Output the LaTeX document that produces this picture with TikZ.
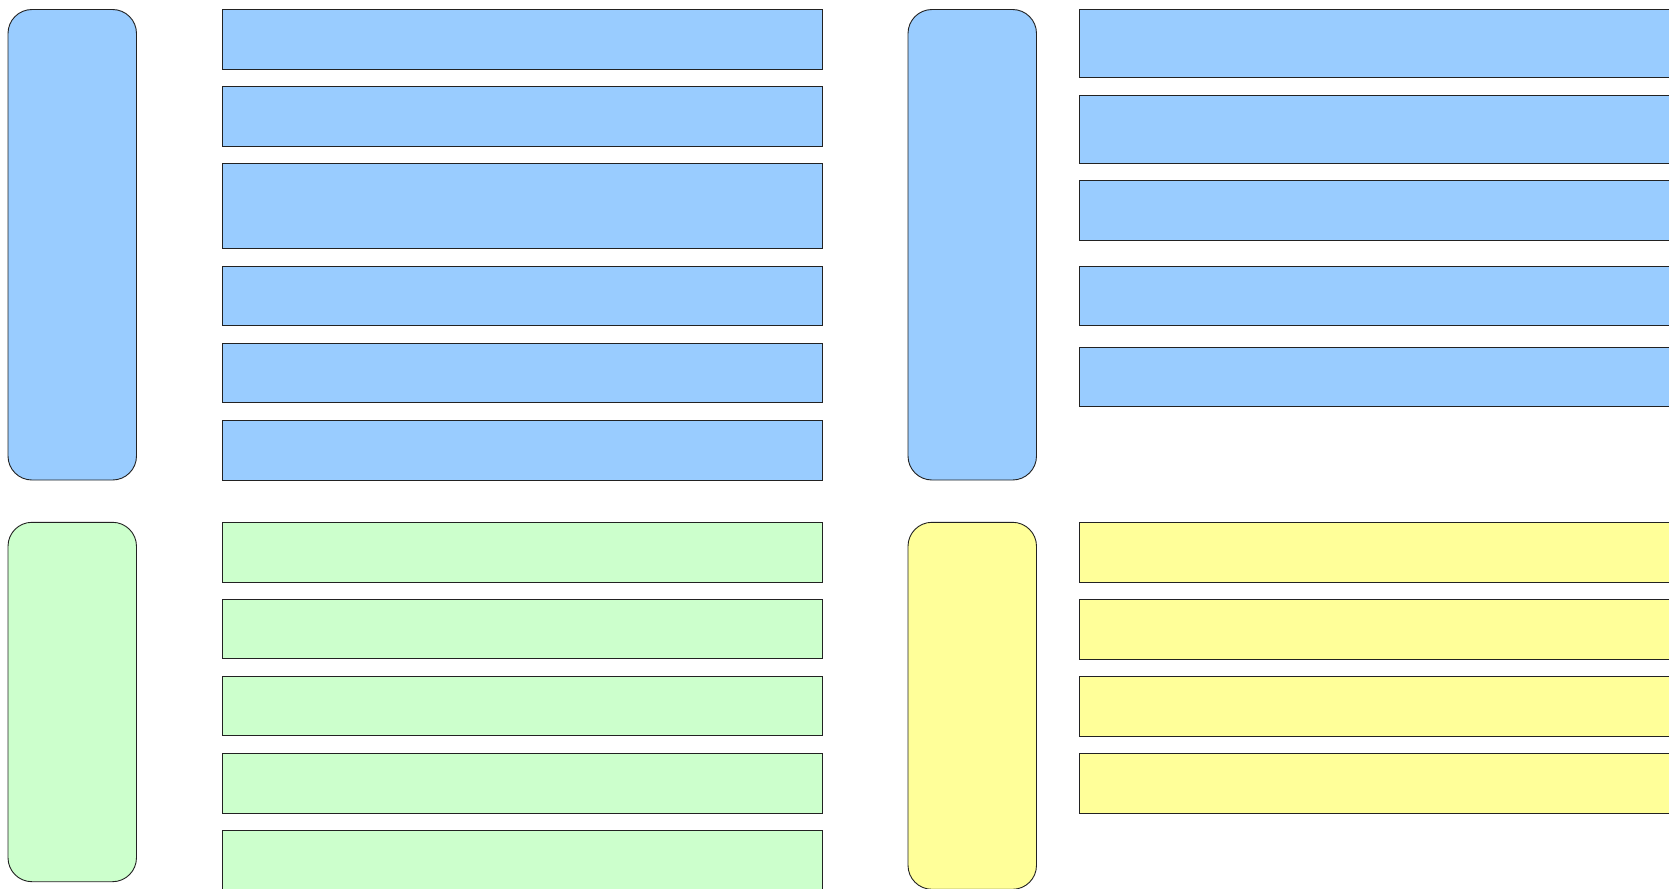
\documentclass[tikz,border=0pt]{standalone}
\definecolor{cblue}{HTML}{99CCFF}
\definecolor{cgreen}{HTML}{CCFFCC}
\definecolor{cyellow}{HTML}{FFFF99}
\definecolor{cline}{HTML}{222222}
\tikzset{
  base/.style={draw=cline, line width=0.9pt, inner sep=0pt, outer sep=0pt, anchor=north west},
  bar/.style={base, rectangle},
  pillar/.style={base, rectangle, rounded corners=24pt, minimum width=128.5pt},
  wide/.style={minimum width=600pt},
  longbar/.style={minimum width=610pt},
}
\begin{document}
\begin{tikzpicture}[x=1pt,y=-1pt]
\useasboundingbox (0,0) rectangle (1669,888);
\clip (0,0) rectangle (1669,888);
% top-left group
\node[pillar, fill=cblue, minimum height=470.5pt] (pA) at (8,9.5) {};
\node[bar, wide, fill=cblue, minimum height=59.8pt] (a1) at (222.3,9.5) {};
\node[bar, wide, fill=cblue, minimum height=59.7pt] (a2) at (222.3,86.3) {};
\node[bar, wide, fill=cblue, minimum height=85.2pt] (a3) at (222.3,163.4) {};
\node[bar, wide, fill=cblue, minimum height=59.4pt] (a4) at (222.3,266.3) {};
\node[bar, wide, fill=cblue, minimum height=59.7pt] (a5) at (222.3,343) {};
\node[bar, wide, fill=cblue, minimum height=59.7pt] (a6) at (222.3,420.3) {};
% top-right group
\node[pillar, fill=cblue, minimum height=470.5pt] (pB) at (908,9.5) {};
\node[bar, longbar, fill=cblue, minimum height=68pt] (b1) at (1079.3,9.6) {};
\node[bar, longbar, fill=cblue, minimum height=68pt] (b2) at (1079.3,95.1) {};
\node[bar, longbar, fill=cblue, minimum height=59.4pt] (b3) at (1079.3,180.8) {};
\node[bar, longbar, fill=cblue, minimum height=59.7pt] (b4) at (1079.3,266) {};
\node[bar, longbar, fill=cblue, minimum height=59.7pt] (b5) at (1079.3,347.2) {};
% bottom-left group
\node[pillar, fill=cgreen, minimum height=359.4pt] (pC) at (8,522.3) {};
\node[bar, wide, fill=cgreen, minimum height=59.7pt] (c1) at (222.3,522.3) {};
\node[bar, wide, fill=cgreen, minimum height=59.7pt] (c2) at (222.3,599.2) {};
\node[bar, wide, fill=cgreen, minimum height=59.7pt] (c3) at (222.3,676) {};
\node[bar, wide, fill=cgreen, minimum height=59.7pt] (c4) at (222.3,753.3) {};
\node[bar, wide, fill=cgreen, minimum height=59.7pt] (c5) at (222.3,830.3) {};
% bottom-right group
\node[pillar, fill=cyellow, minimum height=367pt] (pD) at (908,522.3) {};
\node[bar, longbar, fill=cyellow, minimum height=59.7pt] (d1) at (1079.3,522.6) {};
\node[bar, longbar, fill=cyellow, minimum height=59.7pt] (d2) at (1079.3,599.5) {};
\node[bar, longbar, fill=cyellow, minimum height=59.7pt] (d3) at (1079.3,676.4) {};
\node[bar, longbar, fill=cyellow, minimum height=59.7pt] (d4) at (1079.3,753.4) {};
\end{tikzpicture}
\end{document}
